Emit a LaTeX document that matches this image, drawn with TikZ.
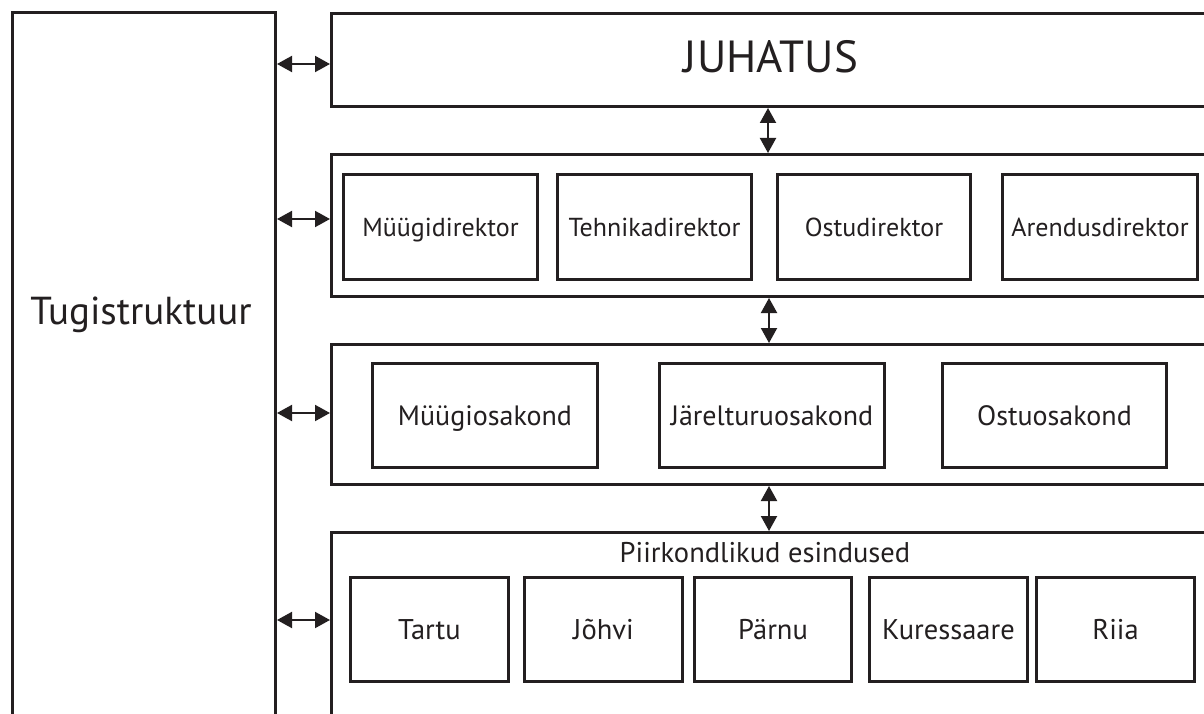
\documentclass[tikz,border=0pt]{standalone}
\usepackage{fontspec}
\setmainfont{PT Sans}
\usetikzlibrary{arrows.meta}
\definecolor{ink}{HTML}{231F20}
\begin{document}
\begin{tikzpicture}[x=1pt,y=-1pt,
  frame/.style={draw=ink, line width=3pt, inner sep=0pt, rectangle, anchor=north west},
  dircell/.style={frame, font=\fontsize{26}{28}\selectfont, text=ink, text height=22.2pt, text depth=4pt},
  depcell/.style={frame, font=\fontsize{28}{30}\selectfont, text=ink, text height=23.6pt, text depth=4pt},
  regcell/.style={frame, font=\fontsize{28.5}{30}\selectfont, text=ink, text height=24pt, text depth=4pt},
  link/.style={draw=ink, line width=2pt,
    {Triangle[length=15pt,width=16pt]}-{Triangle[length=15pt,width=16pt]}}]
\useasboundingbox (0,0) rectangle (1204,714);
\clip (0,0) rectangle (1204,714);
\fill[white] (0,0) rectangle (1204,714);

% support structure column
\node[frame, minimum width=263pt, minimum height=740pt] (tug) at (11,11) {};
\node[font=\fontsize{39}{42}\selectfont, text=ink, anchor=base] (tugtext) at (141,324) {Tugistruktuur};

% board
\node[frame, minimum width=885pt, minimum height=93pt] (juh) at (330,12) {};
\node[font=\fontsize{45}{48}\selectfont, text=ink, anchor=base] (juhtext) at (771,73) {JUHATUS};

% directors
\node[frame, minimum width=885pt, minimum height=142pt] (dir) at (330,153) {};
\node[dircell, minimum width=194pt, minimum height=105pt] (d1) at (342,173) {Müügidirektor};
\node[dircell, minimum width=194pt, minimum height=105pt] (d2) at (556,173) {Tehnikadirektor};
\node[dircell, minimum width=193pt, minimum height=105pt] (d3) at (776,173) {Ostudirektor};
\node[dircell, minimum width=195pt, minimum height=105pt] (d4) at (1001,173) {Arendusdirektor};

% departments
\node[frame, minimum width=885pt, minimum height=140pt] (dep) at (330,343) {};
\node[depcell, minimum width=225pt, minimum height=104pt] (o1) at (371,362) {Müügiosakond};
\node[depcell, minimum width=225pt, minimum height=104pt] (o2) at (658,362) {Järelturuosakond};
\node[depcell, minimum width=224pt, minimum height=104pt] (o3) at (941,362) {Ostuosakond};

% regional offices
\node[frame, minimum width=885pt, minimum height=220pt] (reg) at (330,531) {};
\node[font=\fontsize{28.5}{30}\selectfont, text=ink, anchor=base, inner sep=0pt] (regtext) at (765,562) {Piirkondlikud esindused};
\node[regcell, minimum width=158pt, minimum height=104pt] (r1) at (349,576) {Tartu};
\node[regcell, minimum width=158pt, minimum height=104pt] (r2) at (523,576) {Jõhvi};
\node[regcell, minimum width=157pt, minimum height=104pt] (r3) at (693,576) {Pärnu};
\node[regcell, minimum width=158pt, minimum height=104pt] (r4) at (868,576) {Kuressaare};
\node[regcell, minimum width=158pt, minimum height=104pt] (r5) at (1035,576) {Riia};

% horizontal links to the support column
\draw[link] (tug.east |- 0,64) -- (juh.west |- 0,64);
\draw[link] (tug.east |- 0,219) -- (dir.west |- 0,219);
\draw[link] (tug.east |- 0,413) -- (dep.west |- 0,413);
\draw[link] (tug.east |- 0,620) -- (reg.west |- 0,620);

% vertical links between levels
\draw[link] (juh.south -| 768,0) -- (dir.north -| 768,0);
\draw[link] (dir.south -| 769,0) -- (dep.north -| 769,0);
\draw[link] (dep.south -| 769,0) -- (reg.north -| 769,0);
\end{tikzpicture}
\end{document}
